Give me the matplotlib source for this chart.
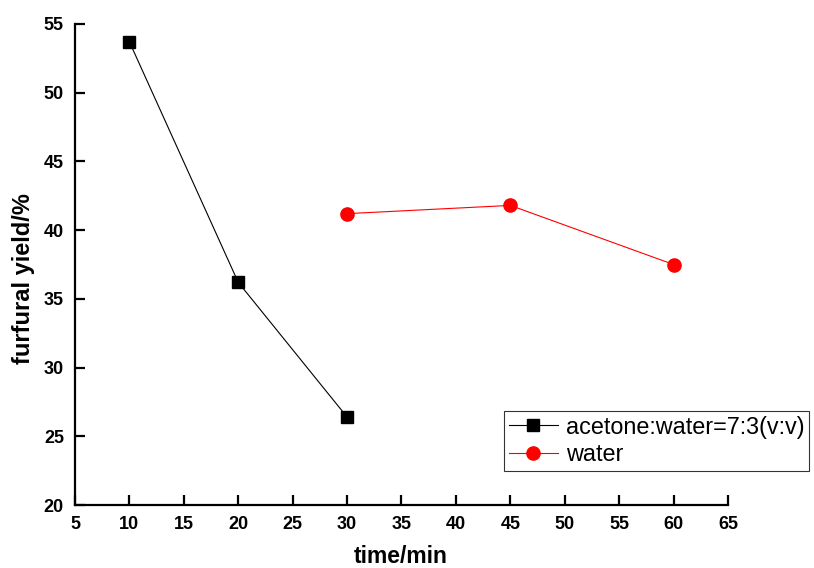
import matplotlib
matplotlib.use("Agg")
import matplotlib.pyplot as plt

plt.rcParams['font.family'] = ['Liberation Sans', 'DejaVu Sans']

time_acetone = [10, 20, 30]
yield_acetone = [53.7, 36.2, 26.4]
time_water = [30, 45, 60]
yield_water = [41.2, 41.8, 37.5]
label_acetone = "acetone:water=7:3(v:v)"
label_water = "water"
xticks = [5, 10, 15, 20, 25, 30, 35, 40, 45, 50, 55, 60, 65]
yticks = [20, 25, 30, 35, 40, 45, 50, 55]

fig = plt.figure(figsize=(8.14, 5.68), dpi=100)
ax = fig.add_axes([75/814, 63/568, 653/814, 481/568])

ax.plot(time_acetone, yield_acetone, color='black', lw=0.8, marker='s',
        markersize=8, markerfacecolor='black', markeredgecolor='black', label=label_acetone)
ax.plot(time_water, yield_water, color='red', lw=0.8, marker='o',
        markersize=9.5, markerfacecolor='red', markeredgecolor='red', label=label_water)

ax.set_xlim(5, 65)
ax.set_ylim(20, 55)
ax.set_xticks(xticks)
ax.set_yticks(yticks)
ax.spines['top'].set_visible(False)
ax.spines['right'].set_visible(False)
for s in ['left', 'bottom']:
    ax.spines[s].set_linewidth(1.6)
ax.tick_params(direction='in', length=7, width=1.6, labelsize=13, pad=8)
for lbl in ax.get_xticklabels() + ax.get_yticklabels():
    lbl.set_fontweight('bold')

ax.set_xlabel("time/min", fontsize=16.5, fontweight='bold')
ax.set_ylabel("furfural yield/%", fontsize=17, fontweight='bold')
ax.xaxis.set_label_coords(0.499, -0.084)
ax.yaxis.set_label_coords(-0.062, 0.47)

leg = fig.legend(loc='upper left', bbox_to_anchor=(504/814, 1 - 411/568),
                 fontsize=16.8, frameon=True, fancybox=False, borderaxespad=0,
                 handlelength=2.1, handletextpad=0.35, borderpad=0.2, labelspacing=0.2)
leg.get_frame().set_edgecolor('black')
leg.get_frame().set_linewidth(0.8)

fig.savefig("out.png", dpi=100)
